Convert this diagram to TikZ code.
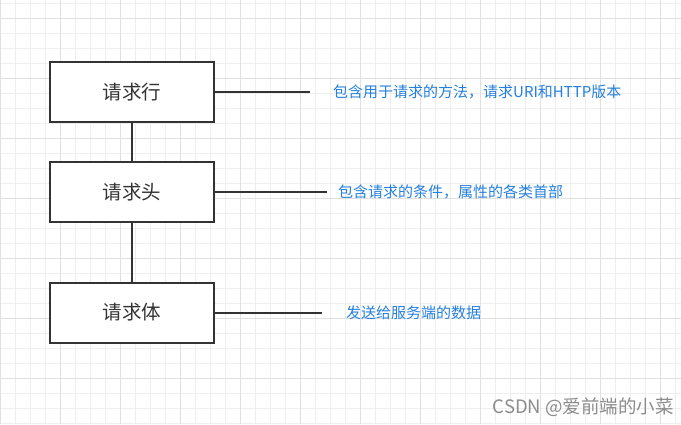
\documentclass[tikz,border=0pt]{standalone}
\usepackage{fontspec}
\setmainfont{Noto Sans CJK SC}
\definecolor{gridminor}{RGB}{238,238,238}
\definecolor{gridmajor}{RGB}{224,224,224}
\definecolor{boxline}{RGB}{51,51,51}
\definecolor{labelblue}{RGB}{36,128,222}
\definecolor{wmgray}{RGB}{140,140,140}
\tikzset{
  reqbox/.style={draw=boxline, line width=2pt, fill=white, minimum width=164pt, minimum height=60pt, inner sep=0pt, font=\fontsize{19.5}{22}\selectfont, text=boxline},
  conn/.style={draw=boxline, line width=2pt},
  desc/.style={anchor=west, inner sep=0pt, text=labelblue, font=\fontsize{15}{17}\selectfont}
}
\begin{document}
\begin{tikzpicture}[x=1pt,y=-1pt]
\useasboundingbox (0,0) rectangle (681,424);
\fill[white] (0,0) rectangle (681,424);
% grid
\foreach \i in {0,...,45} {
  \draw[gridminor, line width=0.8pt] ({0.5+15*\i},0) -- ({0.5+15*\i},424);
}
\foreach \j in {0,...,28} {
  \draw[gridminor, line width=0.8pt] (0,{3.3+15*\j}) -- (681,{3.3+15*\j});
}
\foreach \i in {0,...,11} {
  \draw[gridmajor, line width=0.8pt] ({0.5+60*\i},0) -- ({0.5+60*\i},424);
}
\foreach \j in {0,...,7} {
  \draw[gridmajor, line width=0.8pt] (0,{18.3+60*\j}) -- (681,{18.3+60*\j});
}
% boxes
\node[reqbox] (b1) at (132,92) {请求行};
\node[reqbox] (b2) at (132,192) {请求头};
\node[reqbox] (b3) at (132,312.5) {请求体};
\draw[conn] (b1.south) -- (b2.north);
\draw[conn] (b2.south) -- (b3.north);
% leaders
\coordinate (e1) at (310,92);
\coordinate (e2) at (327,192);
\coordinate (e3) at (322,312.5);
\draw[conn] (b1.east) -- (e1);
\draw[conn] (b2.east) -- (e2);
\draw[conn] (b3.east) -- (e3);
% descriptions
\node[desc] (d1) at (333,92) {包含用于请求的方法，请求URI和HTTP版本};
\node[desc] (d2) at (338,192) {包含请求的条件，属性的各类首部};
\node[desc] (d3) at (346,313) {发送给服务端的数据};
% watermark
\node[anchor=east, inner sep=0pt, text=wmgray, font=\fontsize{18.5}{21}\selectfont] (wm) at (674,407) {CSDN @爱前端的小菜};
\end{tikzpicture}
\end{document}
